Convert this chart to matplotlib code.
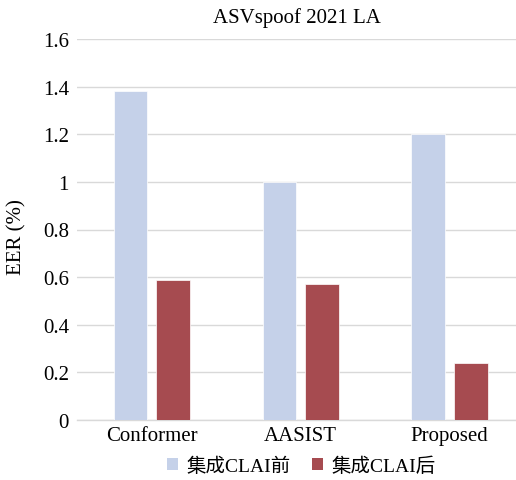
import matplotlib
matplotlib.use("Agg")
import matplotlib.pyplot as plt
import numpy as np
from matplotlib.patches import Patch

categories = ["Conformer", "AASIST", "Proposed"]
before = [1.38, 1.00, 1.20]
after = [0.59, 0.57, 0.24]
series_labels = ["集成CLAI前", "集成CLAI后"]
yticks = [0, 0.2, 0.4, 0.6, 0.8, 1.0, 1.2, 1.4, 1.6]
ytick_labels = ["0", "0.2", "0.4", "0.6", "0.8", "1", "1.2", "1.4", "1.6"]

fam = ["Liberation Serif", "Noto Sans CJK SC"]
plt.rcParams["font.family"] = fam

c_blue = "#C5D1E9"
c_red = "#A64B50"

W, H = 516, 481
fig = plt.figure(figsize=(W / 100, H / 100), dpi=100)
ax = fig.add_axes([77.3 / W, 1 - 421 / H, 446.7 / W, 381 / H])

x = np.arange(len(categories))
w = 0.225
off = 0.1434
ax.bar(x - off, before, w, color=c_blue, edgecolor="white", linewidth=0.5, zorder=3)
ax.bar(x + off, after, w, color=c_red, edgecolor="white", linewidth=0.5, zorder=3)

ax.set_xlim(-0.5, 2.5)
ax.set_ylim(0, 1.6)
ax.set_yticks(yticks)
ax.set_yticklabels(ytick_labels, fontsize=15)
ax.set_xticks(x)
ax.set_xticklabels(categories, fontsize=15)
ax.tick_params(axis="y", length=0, pad=6)
ax.tick_params(axis="x", length=0, pad=4)
ax.grid(axis="y", color="#D9D9D9", linewidth=1, zorder=0)
for s in ["top", "right", "left"]:
    ax.spines[s].set_visible(False)
ax.spines["bottom"].set_color("#D9D9D9")
ax.spines["bottom"].set_linewidth(1)

ax.set_ylabel("EER (%)", fontsize=15)
ax.yaxis.set_label_coords((26 - 77.3) / 446.7, (421 - 237) / 381)
fig.text(297 / W, 1 - 18 / H, "ASVspoof 2021 LA", fontsize=15, ha="center", va="center")

handles = [Patch(facecolor=c_blue), Patch(facecolor=c_red)]
fig.legend(handles, series_labels, loc="center", bbox_to_anchor=(301.5 / W, 1 - 467 / H),
           ncol=2, frameon=False, fontsize=14, handlelength=0.55, handleheight=0.55,
           handletextpad=0.45, columnspacing=1.1)

fig.savefig("out.png", dpi=100)
